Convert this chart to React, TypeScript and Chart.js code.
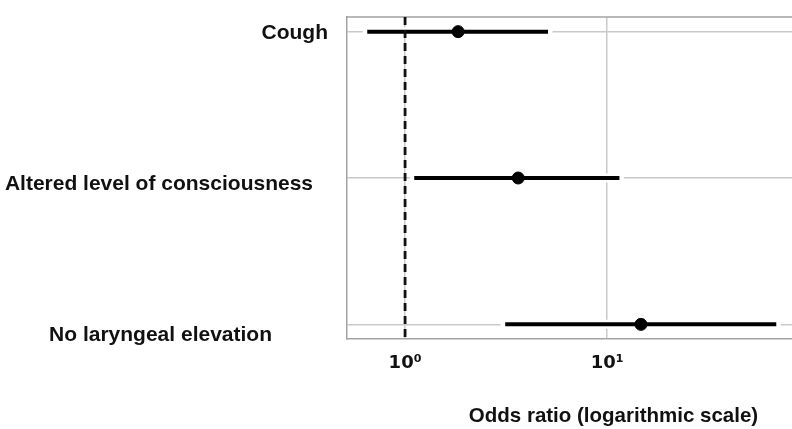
import React, { useEffect, useRef } from "react";
import { Chart, registerables } from "chart.js";

Chart.register(...registerables);

// ---- data ----
const categories = ["Cough", "Altered level of consciousness", "No laryngeal elevation"];
const oddsRatios = [1.83, 3.63, 14.7];
const ciLower = [0.65, 1.11, 3.13];
const ciUpper = [5.1, 11.5, 68.7];
const xTickValues = [1, 10, 100];
const xTickLabels = ["10⁰", "10¹", "10²"];
const referenceOR = 1;
const xAxisTitle = "Odds ratio (logarithmic scale)";
const xMin = 0.516;
const xMax = 224;

// ---- style ----
const FONT_FAMILY = "'Liberation Sans', Arial, Helvetica, sans-serif";
const TICK_FONT_FAMILY = "'DejaVu Sans', sans-serif";
const LABEL_FONT_SIZE = 21;
const labelRightEdge = [328, 313, 272];
const labelBaselineOffset = [7, 12, 17];
const GRID_COLOR = "#c9c9c9";
const BORDER_COLOR = "#a3a3a3";

const categoryLabelPlugin = {
  id: "categoryLabels",
  afterDraw(chart: any) {
    const { ctx } = chart;
    const y = chart.scales.y;
    ctx.save();
    ctx.font = `bold ${LABEL_FONT_SIZE}px ${FONT_FAMILY}`;
    ctx.fillStyle = "#111";
    ctx.textAlign = "right";
    ctx.textBaseline = "alphabetic";
    categories.forEach((c, i) => {
      ctx.fillText(c, labelRightEdge[i], y.getPixelForValue(i) + labelBaselineOffset[i]);
    });
    ctx.restore();
  },
};

const framePlugin = {
  id: "frame",
  afterDatasetsDraw(chart: any) {
    const { ctx, chartArea } = chart;
    const x = chart.scales.x;
    ctx.save();
    ctx.strokeStyle = BORDER_COLOR;
    ctx.lineWidth = 1.5;
    ctx.beginPath();
    ctx.moveTo(chartArea.left, chartArea.top);
    ctx.lineTo(chartArea.right, chartArea.top);
    ctx.lineTo(chartArea.right, chartArea.bottom);
    ctx.stroke();
    const px = x.getPixelForValue(referenceOR);
    ctx.strokeStyle = "#111";
    ctx.lineWidth = 2.8;
    ctx.setLineDash([8, 5]);
    ctx.beginPath();
    ctx.moveTo(px, chartArea.top);
    ctx.lineTo(px, chartArea.bottom);
    ctx.stroke();
    ctx.restore();
  },
};

export default function App() {
  const canvasRef = useRef<HTMLCanvasElement | null>(null);

  useEffect(() => {
    if (!canvasRef.current) return;

    const ciDatasets: any[] = [];
    categories.forEach((c, i) => {
      const pts = [
        { x: ciLower[i], y: i },
        { x: ciUpper[i], y: i },
      ];
      ciDatasets.push({
        type: "line",
        label: c + " halo",
        data: pts,
        borderColor: "#ffffff",
        borderWidth: 9,
        borderCapStyle: "round",
        pointRadius: 0,
        showLine: true,
        order: 3,
      });
      ciDatasets.push({
        type: "line",
        label: c + " CI",
        data: pts,
        borderColor: "#000000",
        borderWidth: 4,
        borderCapStyle: "butt",
        pointRadius: 0,
        showLine: true,
        order: 2,
      });
    });

    const chart = new Chart(canvasRef.current, {
      type: "scatter",
      data: {
        datasets: [
          ...ciDatasets,
          {
            type: "scatter",
            label: "Odds ratio",
            data: oddsRatios.map((v, i) => ({ x: v, y: i })),
            backgroundColor: "#000000",
            borderColor: "#000000",
            pointRadius: 6,
            pointHoverRadius: 6,
            order: 1,
          },
        ],
      } as any,
      options: {
        animation: false,
        responsive: true,
        maintainAspectRatio: false,
        layout: { padding: { left: 347, top: 17, right: 20, bottom: 0 } },
        plugins: {
          legend: { display: false },
          tooltip: { enabled: false },
        },
        scales: {
          x: {
            type: "logarithmic",
            min: xMin,
            max: xMax,
            afterBuildTicks: (scale: any) => {
              scale.ticks = xTickValues.map((v) => ({ value: v }));
            },
            afterFit: (scale: any) => {
              scale.height = 90;
            },
            ticks: {
              autoSkip: false,
              maxRotation: 0,
              padding: 14,
              color: "#111",
              font: { family: TICK_FONT_FAMILY, size: 18, weight: "bold" },
              callback: (value: any) => {
                const idx = xTickValues.indexOf(Number(value));
                return idx >= 0 ? xTickLabels[idx] : "";
              },
            },
            grid: { color: GRID_COLOR, lineWidth: 1.5, drawTicks: false },
            border: { color: BORDER_COLOR, width: 1.5 },
            title: {
              display: true,
              text: xAxisTitle,
              color: "#111",
              font: { family: FONT_FAMILY, size: 20.5, weight: "bold" },
              padding: { top: 0, bottom: 0 },
            },
          },
          y: {
            type: "linear",
            min: -0.1,
            max: 2.1,
            reverse: true,
            afterBuildTicks: (scale: any) => {
              scale.ticks = categories.map((_, i) => ({ value: i }));
            },
            afterFit: (scale: any) => {
              scale.width = 0;
            },
            ticks: { display: false },
            grid: { color: GRID_COLOR, lineWidth: 1.5, drawTicks: false },
            border: { color: BORDER_COLOR, width: 1.5 },
          },
        },
      } as any,
      plugins: [framePlugin, categoryLabelPlugin],
    });

    return () => chart.destroy();
  }, []);

  return (
    <div
      style={{
        position: "absolute",
        left: 0,
        top: 0,
        width: 792,
        height: 429,
        overflow: "hidden",
        background: "#fff",
      }}
    >
      <div style={{ position: "relative", width: 900, height: 429 }}>
        <canvas ref={canvasRef} />
      </div>
    </div>
  );
}
